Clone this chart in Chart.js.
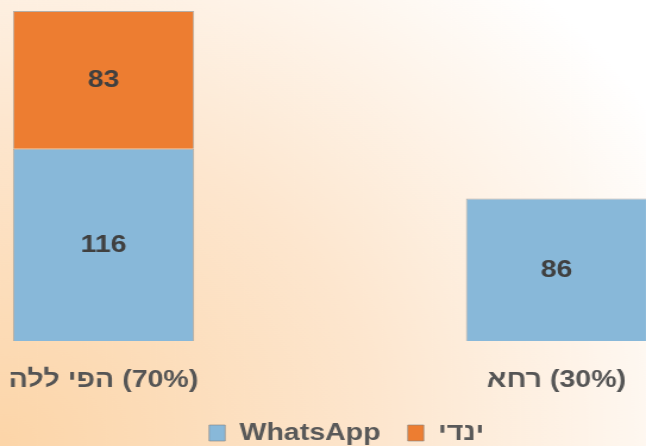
<!DOCTYPE html>
<html>
<head>
<meta charset="utf-8">
<script src="https://cdn.jsdelivr.net/npm/chart.js@4"></script>
<style>
  html, body { margin: 0; padding: 0; background: #fff; overflow: hidden; }
  /* the reference is a horizontally stretched render, so draw narrow and stretch */
  #wrap { width: 543px; height: 446px; transform: scaleX(1.18969); transform-origin: 0 0; }
</style>
</head>
<body>
<div id="wrap"><canvas id="barChart"></canvas></div>
<script>
// data
const categories = ['הלל יפה (70%)', 'אחר (30%)'];
const seriesNames = ['WhatsApp', 'ידני'];
const whatsappValues = [116, 86];
const manualValues = [83, null];

const LRO = '\u202D'; // hebrew is laid out left-to-right in the reference
const FONT = '"Liberation Sans", Arial, sans-serif';

const bgGlow = {
    id: 'bgGlow',
    beforeDraw(chart) {
        const { ctx, width, height } = chart;
        const g = ctx.createRadialGradient(0, height, 0, 0, height, 640);
        g.addColorStop(0, '#fcd5a8');
        g.addColorStop(0.5, '#fde6ce');
        g.addColorStop(1, '#ffffff');
        ctx.save();
        ctx.fillStyle = g;
        ctx.fillRect(0, 0, width, height);
        ctx.restore();
    }
};

const valueLabels = {
    id: 'valueLabels',
    afterDatasetsDraw(chart) {
        const ctx = chart.ctx;
        ctx.save();
        ctx.font = 'bold 24px ' + FONT;
        ctx.fillStyle = '#404040';
        ctx.textAlign = 'center';
        ctx.textBaseline = 'middle';
        chart.data.datasets.forEach((ds, i) => {
            chart.getDatasetMeta(i).data.forEach((bar, j) => {
                if (ds.data[j] == null) return;
                const p = bar.getProps(['x', 'y', 'base'], true);
                ctx.fillText(String(ds.data[j]), p.x, (p.y + p.base) / 2 + 1);
            });
        });
        ctx.restore();
    }
};

// push the legend row a little to the right, like the reference
const legendNudge = {
    id: 'legendNudge',
    afterLayout(chart) {
        if (!chart.legend) return;
        chart.legend.left += 14;
        chart.legend.right += 14;
    }
};

const ctx = document.getElementById('barChart').getContext('2d');
new Chart(ctx, {
    type: 'bar',
    data: {
        labels: categories,
        datasets: [
            {
                label: seriesNames[0],
                data: whatsappValues,
                backgroundColor: '#88b8d9',
                borderColor: 'rgba(130,130,130,0.6)',
                borderWidth: 1,
                clip: false
            },
            {
                label: seriesNames[1],
                data: manualValues,
                backgroundColor: '#ed7d31',
                borderColor: 'rgba(130,130,130,0.6)',
                borderWidth: 1,
                clip: false
            }
        ]
    },
    options: {
        responsive: true,
        maintainAspectRatio: false,
        animation: false,
        layout: { padding: { top: 11, left: 87, right: 75.2, bottom: -9 } },
        datasets: { bar: { categoryPercentage: 0.8, barPercentage: 0.5 } },
        plugins: {
            tooltip: { enabled: false },
            legend: {
                position: 'bottom',
                labels: {
                    boxWidth: 13.5,
                    boxHeight: 16,
                    padding: 22.8,
                    color: '#595959',
                    font: { family: FONT, size: 24, weight: 'bold' },
                    generateLabels(chart) {
                        const items = Chart.defaults.plugins.legend.labels.generateLabels(chart);
                        items.forEach(it => { it.text = LRO + it.text; });
                        return items;
                    }
                }
            }
        },
        scales: {
            x: {
                stacked: true,
                offset: false,
                grid: { display: false },
                border: { display: false },
                afterFit(scale) {
                    scale.height = 57.2;
                    scale.paddingLeft = 0;
                    scale.paddingRight = 0;
                },
                ticks: {
                    padding: 17,
                    color: '#555555',
                    font: { family: FONT, size: 24, weight: 'bold', lineHeight: 1.2 },
                    callback: (v, i) => LRO + categories[i]
                }
            },
            y: {
                stacked: true,
                display: false,
                min: 0,
                max: 199
            }
        }
    },
    plugins: [bgGlow, valueLabels, legendNudge]
});
</script>
</body>
</html>
